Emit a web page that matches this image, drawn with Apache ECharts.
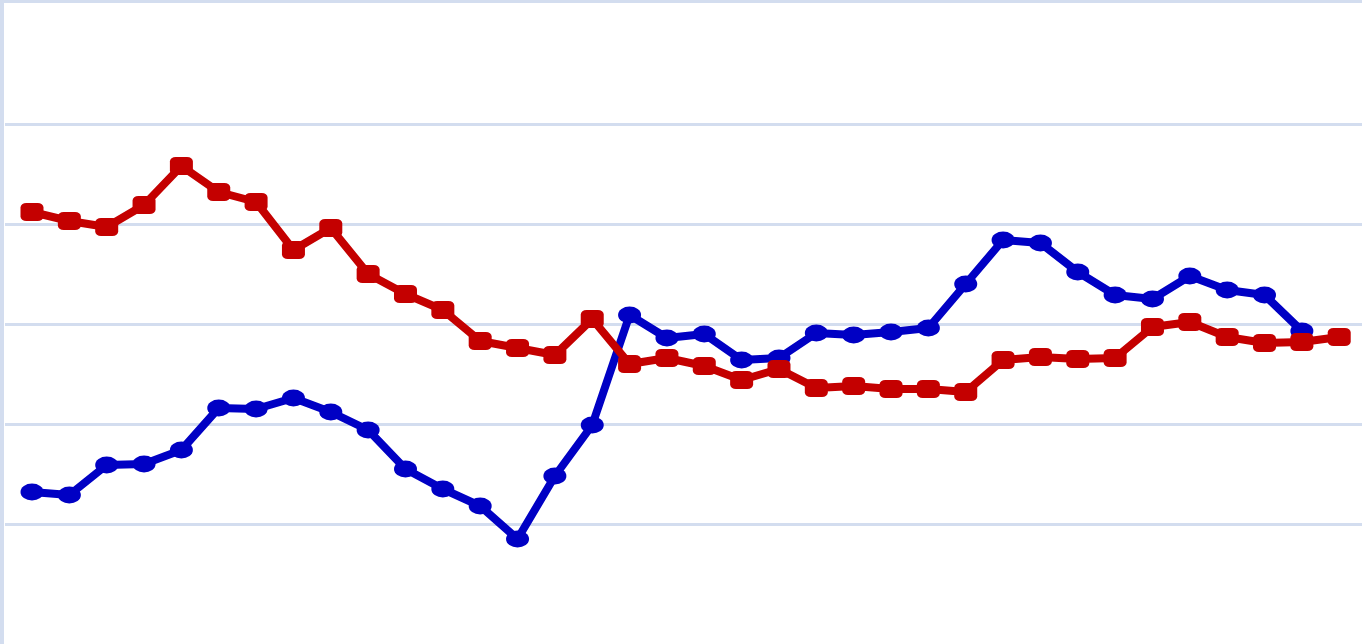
<!DOCTYPE html>
<html>
<head>
<meta charset="utf-8">
<script src="https://cdn.jsdelivr.net/npm/echarts@6/dist/echarts.min.js"></script>
<style>
    html, body { margin: 0; padding: 0; background: #fff; }
    #chart { width: 1362px; height: 644px; }
</style>
</head>
<body>
<div id="chart"></div>
<script>
// one point per period
const periods = [
    1, 2, 3, 4, 5, 6, 7, 8, 9, 10, 11, 12, 13, 14, 15, 16, 17, 18,
    19, 20, 21, 22, 23, 24, 25, 26, 27, 28, 29, 30, 31, 32, 33, 34, 35, 36
];

const blueValues = [
    0.32, 0.29, 0.59, 0.60, 0.74, 1.16, 1.15, 1.26, 1.12, 0.94, 0.55, 0.35,
    0.18, -0.15, 0.48, 0.99, 2.09, 1.86, 1.90, 1.64, 1.66, 1.91, 1.89, 1.92,
    1.96, 2.40, 2.84, 2.81, 2.52, 2.29, 2.25, 2.48, 2.34, 2.29, 1.93
];

const redValues = [
    3.12, 3.03, 2.97, 3.19, 3.58, 3.32, 3.22, 2.74, 2.96, 2.50, 2.30, 2.14,
    1.83, 1.76, 1.69, 2.05, 1.60, 1.66, 1.58, 1.44, 1.55, 1.36, 1.38, 1.35,
    1.35, 1.32, 1.64, 1.67, 1.65, 1.66, 1.97, 2.02, 1.87, 1.81, 1.82, 1.87
];

const gridColor = "#d3ddef";

function toPoints(values) {
    return values.map((v, i) => [periods[i] - 1, v]);
}

const chart = echarts.init(document.getElementById("chart"));

const option = {
    animation: false,
    grid: { left: 5, right: 0, top: 24, bottom: 20 },
    xAxis: {
        type: "value",
        min: -0.723,
        max: 35.61,
        show: false,
    },
    yAxis: {
        type: "value",
        min: -1,
        max: 5,
        interval: 1,
        axisLine: { show: false },
        axisTick: { show: false },
        axisLabel: { show: false },
        splitLine: {
            show: true,
            showMinLine: false,
            showMaxLine: false,
            lineStyle: { color: gridColor, width: 3 },
        },
    },
    graphic: [
        { type: "rect", left: 0, top: 0, shape: { width: 4, height: 644 }, style: { fill: gridColor }, z: 10 },
        { type: "rect", left: 0, top: 0, shape: { width: 1362, height: 3 }, style: { fill: gridColor }, z: 10 },
    ],
    series: [
        {
            name: "blue",
            type: "line",
            data: toPoints(blueValues),
            symbol: "circle",
            symbolSize: [23, 17],
            lineStyle: { color: "#0000c4", width: 8 },
            itemStyle: { color: "#0000c4" },
            z: 2,
        },
        {
            name: "red",
            type: "line",
            data: toPoints(redValues),
            symbol: "roundRect",
            symbolSize: [23, 18],
            lineStyle: { color: "#c40000", width: 8 },
            itemStyle: { color: "#c40000" },
            z: 3,
        },
    ],
};

chart.setOption(option);
</script>
</body>
</html>
